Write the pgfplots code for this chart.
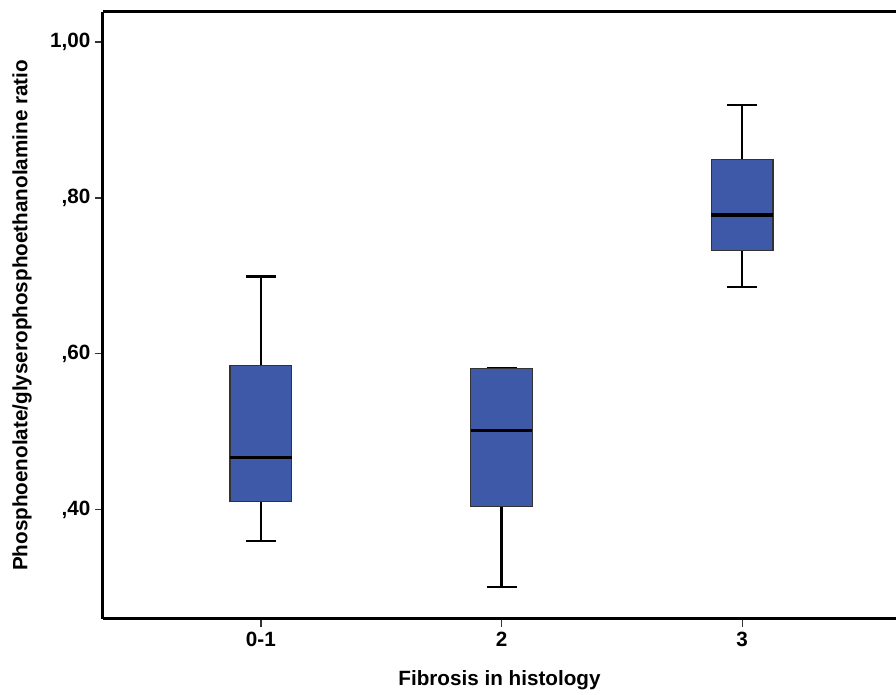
\documentclass[border=0pt]{standalone}
\usepackage{fontspec}
\setmainfont{Liberation Sans}
\usepackage{pgfplots}
\pgfplotsset{compat=1.18}
\usepgfplotslibrary{statistics}
\definecolor{boxblue}{RGB}{62,89,168}
\begin{document}
\begin{tikzpicture}
\begin{axis}[
  scale only axis,
  width=594.75pt, height=455.25pt,
  xmin=0.344, xmax=3.639,
  ymin=0.2595, ymax=1.0385,
  axis x line=box, axis y line=left,
  axis line style={line width=2.25pt, -},
  every outer x axis line/.append style={line width=2.25pt},
  every outer y axis line/.append style={line width=2.25pt},
  xtick={1,2,3}, xticklabels={0-1,2,3},
  ytick={0.4,0.6,0.8,1.0}, yticklabels={{,40},{,60},{,80},{1,00}},
  xtick pos=bottom, ytick pos=left,
  tick align=outside, major tick length=6pt,
  tick style={line width=1pt, black!80},
  ticklabel style={font=\fontsize{15.5pt}{18pt}\selectfont\bfseries},
  label style={font=\fontsize{15.5pt}{18pt}\selectfont\bfseries},
  xlabel={Fibrosis in histology},
  ylabel={Phosphoenolate/glyserophosphoethanolamine ratio},
  xlabel style={at={(axis description cs:0.5,0)}, anchor=center, yshift=-45.75pt},
  ylabel style={at={(axis description cs:0,0.5)}, anchor=center, yshift=60.75pt},
  boxplot/draw direction=y,
  boxplot/box extend=0.257,
  boxplot/whisker extend=0.125,
  boxplot/every box/.style={fill=boxblue, draw=black!80, line width=1pt},
  boxplot/every whisker/.style={black, line width=1.7pt},
  boxplot/every median/.style={black, line width=2.4pt},
  clip=false,
]
\addplot+[mark=none, boxplot prepared={draw position=1,
  lower whisker=0.360, lower quartile=0.410, median=0.467,
  upper quartile=0.585, upper whisker=0.699}] coordinates {};
\addplot+[mark=none, boxplot prepared={draw position=2,
  lower whisker=0.301, lower quartile=0.404, median=0.501,
  upper quartile=0.581, upper whisker=0.582}] coordinates {};
\addplot+[mark=none, boxplot prepared={draw position=3,
  lower whisker=0.686, lower quartile=0.732, median=0.778,
  upper quartile=0.849, upper whisker=0.919}] coordinates {};
\coordinate (bl) at (rel axis cs:0,0);
\coordinate (tr) at (rel axis cs:1,1);
\end{axis}
\pgfresetboundingbox
\path[use as bounding box] ([xshift=-77.25pt,yshift=-57pt]bl) rectangle ([yshift=9pt]tr);
\end{tikzpicture}
\end{document}
